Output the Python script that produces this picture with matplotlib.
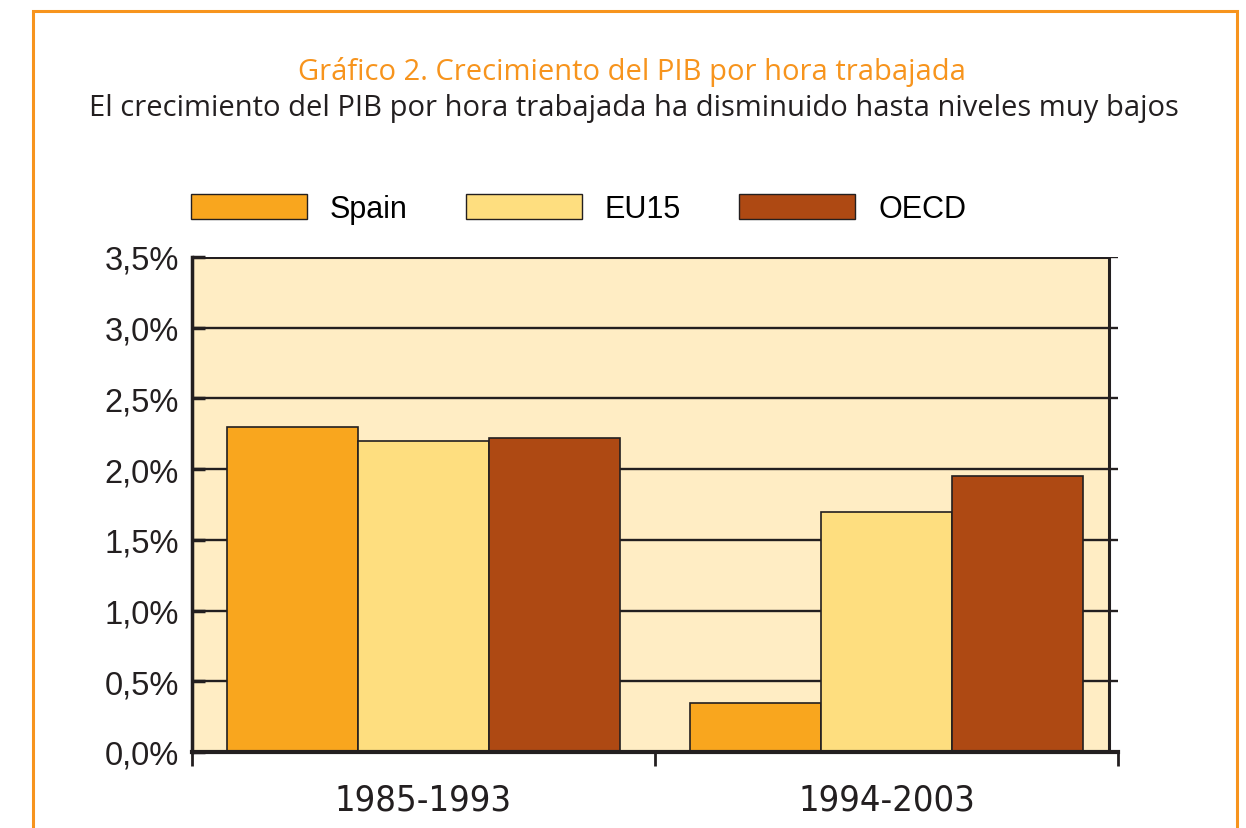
import numpy as np
import matplotlib.pyplot as plt
from matplotlib.patches import Rectangle, Patch
from matplotlib.ticker import FuncFormatter

# Data
periods = ["1985-1993", "1994-2003"]
series = ["Spain", "EU15", "OECD"]
spain = [2.30, 0.35]
eu15 = [2.20, 1.70]
oecd = [2.22, 1.95]
yticks = [0.0, 0.5, 1.0, 1.5, 2.0, 2.5, 3.0, 3.5]

colors = ["#F9A61E", "#FEDE7F", "#AE4913"]
dark = "#231F20"
orange = "#F7941D"

plt.rcParams["font.family"] = ["Liberation Sans", "DejaVu Sans"]

W, H = 1246, 829
fig = plt.figure(figsize=(W / 100, H / 100), dpi=100)

# orange frame around the chart
fig.add_artist(Rectangle((33 / W, -0.05), (1237 - 33) / W, 1.05 - 12 / H,
                         transform=fig.transFigure, fill=False,
                         edgecolor=orange, linewidth=2.2))

fig.text(0.5075, 1 - 72 / H, "Gráfico 2. Crecimiento del PIB por hora trabajada",
         ha="center", va="center", color=orange, fontsize=21, family="Open Sans")
fig.text(0.5085, 1 - 109 / H,
         "El crecimiento del PIB por hora trabajada ha disminuido hasta niveles muy bajos",
         ha="center", va="center", color=dark, fontsize=21, family="Open Sans")

ax = fig.add_axes([192 / W, 1 - 753 / H, (1118 - 192) / W, (753 - 258) / H])
ax.set_facecolor("none")
ax.set_xlim(0, 2)
ax.set_ylim(0, 3.5)

# plot area background with right border
ax.add_patch(Rectangle((0, 0), 1.981, 3.5, facecolor="#FFEDC4",
                       edgecolor=dark, linewidth=2.2, zorder=0))

for y in yticks[1:]:
    ax.axhline(y, color=dark, linewidth=1.7, zorder=1)

x = np.arange(len(periods)) + 0.5
w = 0.283
for i, (vals, c) in enumerate(zip([spain, eu15, oecd], colors)):
    ax.bar(x + (i - 1) * w, vals, width=w, color=c, edgecolor=dark,
           linewidth=1.2, zorder=2, label=series[i])

for s in ["top", "right"]:
    ax.spines[s].set_visible(False)
ax.spines["left"].set_linewidth(2.5)
ax.spines["bottom"].set_linewidth(3)
ax.spines["left"].set_color(dark)
ax.spines["bottom"].set_color(dark)
ax.spines["left"].set_zorder(3)
ax.spines["bottom"].set_zorder(3)

ax.set_yticks(yticks)
ax.yaxis.set_major_formatter(FuncFormatter(lambda v, p: f"{v:.1f}%".replace(".", ",")))
ax.tick_params(axis="y", direction="in", length=9, width=2.5, color=dark,
               labelsize=23.5, pad=9.5, labelcolor=dark)

ax.set_xticks([0, 1, 2])
ax.set_xticklabels([])
ax.tick_params(axis="x", which="major", direction="out", length=10, width=2, color=dark)
ax.set_xticks(x, minor=True)
ax.set_xticklabels(periods, minor=True, fontsize=26, color=dark,
                   family=["DejaVu Sans"], fontstretch="condensed")
ax.tick_params(axis="x", which="minor", length=0, pad=22)

handles = [Patch(facecolor=c, edgecolor=dark, linewidth=1.0) for c in colors]
ax.legend(handles, series, loc="center left", bbox_to_anchor=(191 / W, 1 - 210 / H),
          bbox_transform=fig.transFigure, ncol=3, frameon=False, fontsize=22,
          handlelength=3.8, handleheight=0.85, handletextpad=0.75,
          columnspacing=1.9, borderpad=0, borderaxespad=0)

fig.savefig("out.png", dpi=100)
